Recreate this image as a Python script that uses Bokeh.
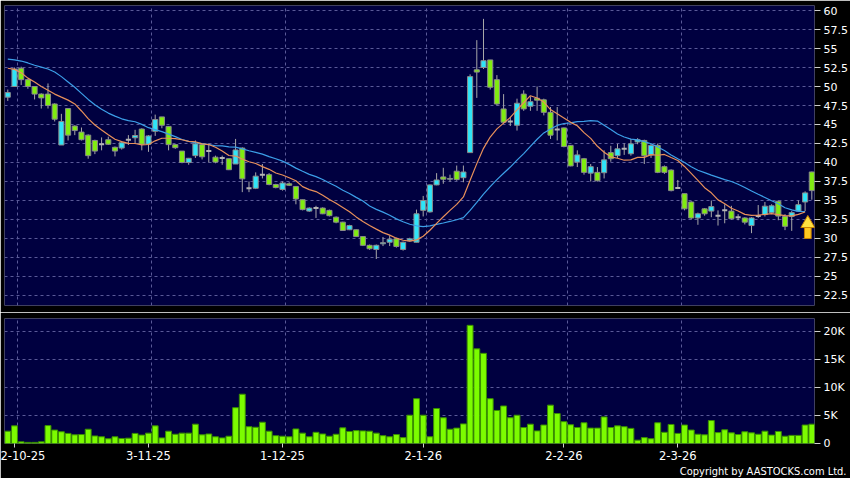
from bokeh.plotting import figure
from bokeh.layouts import column
from bokeh.models import FixedTicker, Grid, Range1d, Title
from bokeh.embed import file_html
from bokeh.resources import INLINE

# ---------------- data ----------------
tick_index = [1, 21, 41, 62, 83, 100]
tick_labels = ["2-10-25", "3-11-25", "1-12-25", "2-1-26", "2-2-26", "2-3-26"]

price_ticks = [22.5, 25, 27.5, 30, 32.5, 35, 37.5, 40, 42.5, 45, 47.5, 50, 52.5, 55, 57.5, 60]
vol_ticks = [0, 5000, 10000, 15000, 20000]
vol_tick_labels = ["0", "5K", "10K", "15K", "20K"]

opens = [48.6, 50.0, 52.4, 50.9, 50.0, 49.0, 49.0, 47.7, 42.3, 47.1,
         44.8, 44.0, 43.6, 42.9, 42.4, 43.0, 42.0, 41.9, 43.0, 43.25,
         44.4, 42.4, 44.1, 46.0, 44.75, 42.35, 41.5, 40.0, 40.9, 42.35,
         41.5, 40.7, 40.6, 40.5, 39.8, 41.9, 36.6, 36.6, 38.4, 38.4,
         37.1, 36.45, 37.2, 36.85, 35.1, 33.6, 34.0, 34.0, 33.7, 32.8,
         32.15, 31.15, 31.15, 30.25, 29.1, 28.55, 29.3, 29.5, 29.95, 28.55,
         29.7, 29.5, 33.7, 33.5, 37.05, 38.1, 37.8, 38.85, 38.0, 41.3,
         52.2, 52.5, 53.5, 50.9, 47.05, 45.4, 44.9, 49.0, 47.4, 48.45,
         48.25, 46.6, 44.35, 44.55, 42.25, 40.05, 40.5, 38.6, 38.7, 38.65,
         41.3, 40.9, 41.8, 41.15, 42.7, 42.9, 41.0, 42.25, 39.45, 39.0,
         36.65, 35.9, 34.8, 32.7, 33.9, 33.6, 33.0, 33.7, 33.6, 32.8,
         32.7, 31.7, 32.95, 33.15, 33.4, 34.9, 32.9, 32.9, 33.6, 34.8,
         38.75]
highs = [49.6, 52.5, 52.6, 51.0, 50.0, 49.1, 50.4, 47.8, 46.4, 47.1,
         44.9, 44.6, 43.7, 43.0, 43.3, 43.4, 42.1, 42.8, 43.6, 44.3,
         44.5, 43.6, 46.3, 46.0, 44.8, 42.4, 41.5, 40.6, 42.9, 42.4,
         42.5, 40.9, 40.9, 40.5, 43.1, 42.0, 37.5, 38.7, 39.8, 38.6,
         37.2, 37.5, 37.4, 36.9, 35.1, 34.1, 34.3, 34.1, 33.8, 32.9,
         32.2, 31.8, 31.2, 30.3, 29.2, 29.2, 30.2, 30.4, 30.1, 29.6,
         30.1, 33.8, 35.6, 37.1, 38.6, 39.3, 38.4, 39.6, 39.6, 51.6,
         56.1, 58.9, 53.5, 51.5, 49.0, 46.0, 48.4, 49.5, 48.7, 50.0,
         48.4, 47.3, 47.3, 44.6, 42.3, 41.6, 40.6, 39.8, 39.4, 41.6,
         42.2, 42.45, 42.5, 43.1, 43.2, 43.0, 42.5, 42.5, 39.6, 39.1,
         37.7, 35.9, 34.9, 33.4, 34.0, 35.0, 33.7, 34.5, 34.3, 33.2,
         32.8, 32.8, 34.4, 34.8, 34.5, 35.0, 33.2, 33.6, 35.0, 36.2,
         38.8]
lows = [48.1, 50.0, 50.2, 49.7, 48.3, 47.1, 47.1, 45.4, 42.3, 42.9,
        43.6, 42.9, 40.5, 41.1, 41.6, 42.3, 40.8, 41.7, 42.3, 42.5,
        41.6, 41.4, 43.5, 44.5, 41.6, 41.8, 39.9, 39.7, 40.6, 40.4,
        40.0, 39.9, 39.7, 39.0, 39.8, 36.1, 36.1, 36.5, 37.9, 37.0,
        36.6, 36.3, 36.9, 34.5, 33.7, 33.5, 32.7, 33.2, 32.9, 32.0,
        31.0, 31.1, 30.2, 29.0, 28.5, 27.3, 29.0, 29.0, 28.8, 28.4,
        29.6, 29.5, 32.9, 33.4, 37.0, 37.2, 37.5, 37.6, 37.4, 41.3,
        48.5, 52.3, 49.6, 47.5, 45.1, 44.8, 44.2, 46.8, 46.8, 46.8,
        46.2, 43.1, 42.9, 42.0, 39.5, 39.4, 38.4, 37.5, 37.5, 37.9,
        40.1, 40.6, 41.0, 40.9, 42.4, 39.8, 40.6, 38.6, 38.5, 36.2,
        36.5, 33.7, 32.5, 31.8, 33.0, 32.8, 31.7, 32.0, 32.5, 32.4,
        31.85, 30.7, 32.7, 32.9, 33.2, 32.4, 31.1, 31.0, 33.5, 33.6,
        35.1]
closes = [49.2, 52.3, 50.9, 50.0, 49.0, 48.5, 47.5, 45.7, 45.4, 43.6,
          44.2, 43.0, 40.9, 41.5, 42.4, 42.4, 41.5, 42.6, 43.0, 43.55,
          42.4, 43.5, 45.65, 44.9, 42.35, 41.95, 40.0, 40.55, 42.45, 40.75,
          41.5, 40.05, 40.6, 39.05, 41.65, 37.85, 36.6, 38.2, 38.4, 37.1,
          36.7, 37.3, 37.0, 35.2, 33.8, 34.0, 34.0, 33.25, 33.0, 32.15,
          31.05, 31.7, 30.25, 29.1, 28.65, 29.1, 29.45, 29.9, 28.95, 29.5,
          29.95, 33.25, 35.0, 37.05, 37.7, 37.8, 37.9, 37.75, 38.75, 51.3,
          51.9, 53.4, 49.9, 47.7, 45.3, 45.4, 47.8, 47.05, 48.0, 48.2,
          46.6, 43.6, 44.35, 42.1, 39.55, 41.0, 38.7, 39.45, 37.6, 40.35,
          40.5, 41.8, 41.8, 42.45, 43.0, 40.9, 42.25, 38.7, 38.7, 36.3,
          36.65, 33.9, 32.7, 33.25, 33.25, 34.2, 33.0, 33.7, 32.6, 32.8,
          32.15, 32.7, 32.95, 34.25, 34.3, 32.95, 31.6, 33.4, 34.45, 36.0,
          36.3]
volumes = [2200, 3150, 300, 200, 200, 300, 3200, 2400, 2100, 1800,
           1550, 1600, 2550, 1350, 1200, 850, 1200, 900, 950, 1800,
           1500, 1850, 3150, 1000, 2200, 1650, 1850, 1850, 3450, 1550,
           1700, 1200, 1000, 1300, 6400, 8800, 3000, 2900, 3800, 2200,
           1400, 1300, 1200, 2600, 1850, 1200, 2000, 1700, 1300, 1650,
           2800, 2150, 2300, 2250, 2200, 1850, 1400, 1200, 1600, 1050,
           5050, 8000, 5050, 1200, 6250, 4600, 2550, 2750, 3500, 21100,
           16900, 16100, 8000, 5900, 6700, 4600, 5050, 2850, 3450, 2250,
           3300, 6850, 5350, 3900, 3350, 2850, 3700, 2750, 2750, 4750,
           2850, 3150, 3000, 2700, 600, 1050, 850, 3700, 2000, 3400,
           1800, 3300, 2400, 1650, 1550, 4100, 1950, 2450, 1900, 1600,
           2100, 1900, 1650, 2200, 1500, 2150, 1300, 1450, 1450, 3300,
           3450]
ma10 = [52.4, 52.25, 51.8, 51.1, 50.6, 50.0, 49.5, 49.0, 48.6, 48.21,
        47.71, 46.78, 45.78, 44.93, 44.27, 43.66, 43.06, 42.75, 42.51, 42.5,
        42.32, 42.37, 42.85, 43.19, 43.19, 43.14, 42.99, 42.79, 42.73, 42.45,
        42.36, 42.01, 41.51, 40.92, 40.85, 40.44, 40.1, 39.87, 39.46, 39.1,
        38.62, 38.35, 37.99, 37.6, 36.82, 36.43, 36.17, 35.68, 35.14, 34.64,
        34.08, 33.52, 32.84, 32.23, 31.72, 31.23, 30.77, 30.44, 30.04, 29.77,
        29.66, 29.82, 30.29, 31.08, 31.99, 32.86, 33.7, 34.49, 35.47, 37.65,
        39.85, 41.86, 43.35, 44.42, 45.18, 45.94, 46.93, 47.86, 48.79, 48.48,
        47.95, 46.97, 46.41, 45.85, 45.28, 44.84, 43.93, 43.17, 42.13, 41.35,
        40.74, 40.56, 40.3, 40.34, 40.68, 40.67, 41.03, 40.95, 41.06, 40.66,
        40.27, 39.48, 38.57, 37.65, 36.68, 36.01, 35.08, 34.58, 33.97, 33.62,
        33.17, 33.05, 33.07, 33.17, 33.28, 33.15, 33.01, 32.98, 33.17, 33.49]
ma20 = [53.6, 53.5, 53.35, 53.1, 52.8, 52.55, 52.3, 51.9, 51.3, 50.6,
        49.9, 49.1, 48.3, 47.6, 47.0, 46.5, 46.1, 45.75, 45.5, 45.36,
        45.02, 44.58, 44.32, 44.06, 43.73, 43.4, 43.03, 42.77, 42.62, 42.48,
        42.35, 42.2, 42.18, 42.06, 42.02, 41.8, 41.55, 41.33, 41.1, 40.78,
        40.49, 40.18, 39.75, 39.26, 38.84, 38.44, 38.14, 37.77, 37.3, 36.87,
        36.35, 35.93, 35.41, 34.92, 34.27, 33.83, 33.47, 33.06, 32.58, 32.2,
        31.87, 31.67, 31.57, 31.66, 31.85, 32.04, 32.24, 32.46, 32.75, 33.71,
        34.75, 35.84, 36.82, 37.75, 38.58, 39.4, 40.32, 41.17, 42.13, 43.06,
        43.89, 44.41, 44.88, 45.13, 45.22, 45.38, 45.42, 45.51, 45.45, 44.9,
        44.33, 43.75, 43.35, 43.08, 42.97, 42.75, 42.47, 42.05, 41.59, 40.99,
        40.49, 40.01, 39.43, 38.98, 38.67, 38.33, 38.04, 37.75, 37.5, 37.13,
        36.71, 36.26, 35.81, 35.4, 34.97, 34.57, 34.04, 33.77, 33.56, 33.55]

# signal arrow under the last sessions
arrow_x = [119.4]
arrow_tail = [30.0]
arrow_neck = [31.45]
arrow_head_mid = [31.97]

# ---------------- styles ----------------
BG = "#000040"
GRID = "#5a5a98"
CYAN = "#2fe4f8"
GREEN = "#80ec10"
VOLGREEN = "#7cfc00"
OUTLINE = "#8a8a8a"
WICK = "#a8a8a8"
FONT = "DejaVu Sans"

n = len(closes)
xs = list(range(n))
up_x, up_top, up_bot = [], [], []
dn_x, dn_top, dn_bot = [], [], []
dj_x, dj_y = [], []
for i in xs:
    o, c = opens[i], closes[i]
    if c > o:
        up_x.append(i); up_top.append(c); up_bot.append(o)
    elif c < o:
        dn_x.append(i); dn_top.append(o); dn_bot.append(c)
    else:
        dj_x.append(i); dj_y.append(c)

X_RANGE = Range1d(-0.49, 120.4)


def style_common(p):
    p.background_fill_color = BG
    p.border_fill_color = "black"
    p.outline_line_color = None


def style_axis(ax, tick_out, size):
    ax.axis_line_color = None
    ax.major_tick_line_color = "#d0d0d0"
    ax.major_tick_out = tick_out
    ax.major_tick_in = 0
    ax.minor_tick_line_color = None
    ax.major_label_standoff = 3
    ax.major_label_text_color = "white"
    ax.major_label_text_font = FONT
    ax.major_label_text_font_size = size


# ---------------- price panel ----------------
pp = figure(width=850, height=312, x_range=X_RANGE, y_range=Range1d(21.18, 60.66),
            x_axis_location=None, y_axis_location="right",
            output_backend="svg", toolbar_location=None,
            min_border_left=4, min_border_right=36, min_border_top=5, min_border_bottom=7)
style_common(pp)
pp.grid.visible = False
pp.add_layout(Grid(dimension=1, ticker=FixedTicker(ticks=price_ticks),
                   grid_line_color=GRID, grid_line_dash="3 3", grid_line_width=1))
pp.add_layout(Grid(dimension=0, ticker=FixedTicker(ticks=[t + 0.5 for t in tick_index]),
                   grid_line_color=GRID, grid_line_dash="3 3", grid_line_width=1))

ya = pp.yaxis[0]
ya.ticker = FixedTicker(ticks=price_ticks)
ya.major_label_overrides = {t: f"{t:g}" for t in price_ticks}
style_axis(ya, 6, "11px")

pp.segment(x0=xs, y0=highs, x1=xs, y1=lows, line_color=WICK, line_width=1)
pp.vbar(x=up_x, top=up_top, bottom=up_bot, width=0.76, fill_color=CYAN, line_color=OUTLINE, line_width=1)
pp.vbar(x=dn_x, top=dn_top, bottom=dn_bot, width=0.76, fill_color=GREEN, line_color=OUTLINE, line_width=1)
pp.segment(x0=[x - 0.38 for x in dj_x], y0=dj_y, x1=[x + 0.38 for x in dj_x], y1=dj_y,
           line_color="#b4b4b4", line_width=2)

pp.line(x=list(range(len(ma20))), y=ma20, line_color="#3c9fe8", line_width=1.2)
pp.line(x=list(range(len(ma10))), y=ma10, line_color="#e8905a", line_width=1.2)

# arrow
pp.vbar(x=arrow_x, bottom=arrow_tail, top=arrow_neck, width=1.0,
        fill_color="#ffc820", line_color="#c88000", line_width=1)
pp.scatter(x=arrow_x, y=arrow_head_mid, marker="triangle", size=14,
           fill_color="#ffe040", line_color="#c88000", line_width=1)

# ---------------- volume panel ----------------
pv = figure(width=850, height=166, x_range=X_RANGE, y_range=Range1d(0, 22320),
            y_axis_location="right",
            output_backend="svg", toolbar_location=None,
            min_border_left=4, min_border_right=36, min_border_top=6, min_border_bottom=35)
style_common(pv)
pv.grid.visible = False
pv.add_layout(Grid(dimension=1, ticker=FixedTicker(ticks=vol_ticks),
                   grid_line_color=GRID, grid_line_dash="3 3", grid_line_width=1))
pv.add_layout(Grid(dimension=0, ticker=FixedTicker(ticks=[t + 0.5 for t in tick_index]),
                   grid_line_color=GRID, grid_line_dash="3 3", grid_line_width=1))

pv.vbar(x=xs, top=volumes, bottom=0, width=0.88, fill_color=VOLGREEN,
        line_color="#3a8f00", line_width=1)

vy = pv.yaxis[0]
vy.ticker = FixedTicker(ticks=vol_ticks)
vy.major_label_overrides = dict(zip(vol_ticks, vol_tick_labels))
style_axis(vy, 6, "11px")

vx = pv.xaxis[0]
vx.ticker = FixedTicker(ticks=tick_index)
vx.major_label_overrides = dict(zip(tick_index, tick_labels))
style_axis(vx, 4, "11.5px")

pv.add_layout(Title(text="Copyright by AASTOCKS.com Ltd.", align="right", offset=-32,
                    standoff=0, text_color="white", text_font="DejaVu Sans Condensed",
                    text_font_size="11px", text_font_style="normal"), "below")

layout = column(pp, pv, spacing=0)

with open("out.html", "w") as f:
    f.write(file_html(layout, INLINE, "chart"))
